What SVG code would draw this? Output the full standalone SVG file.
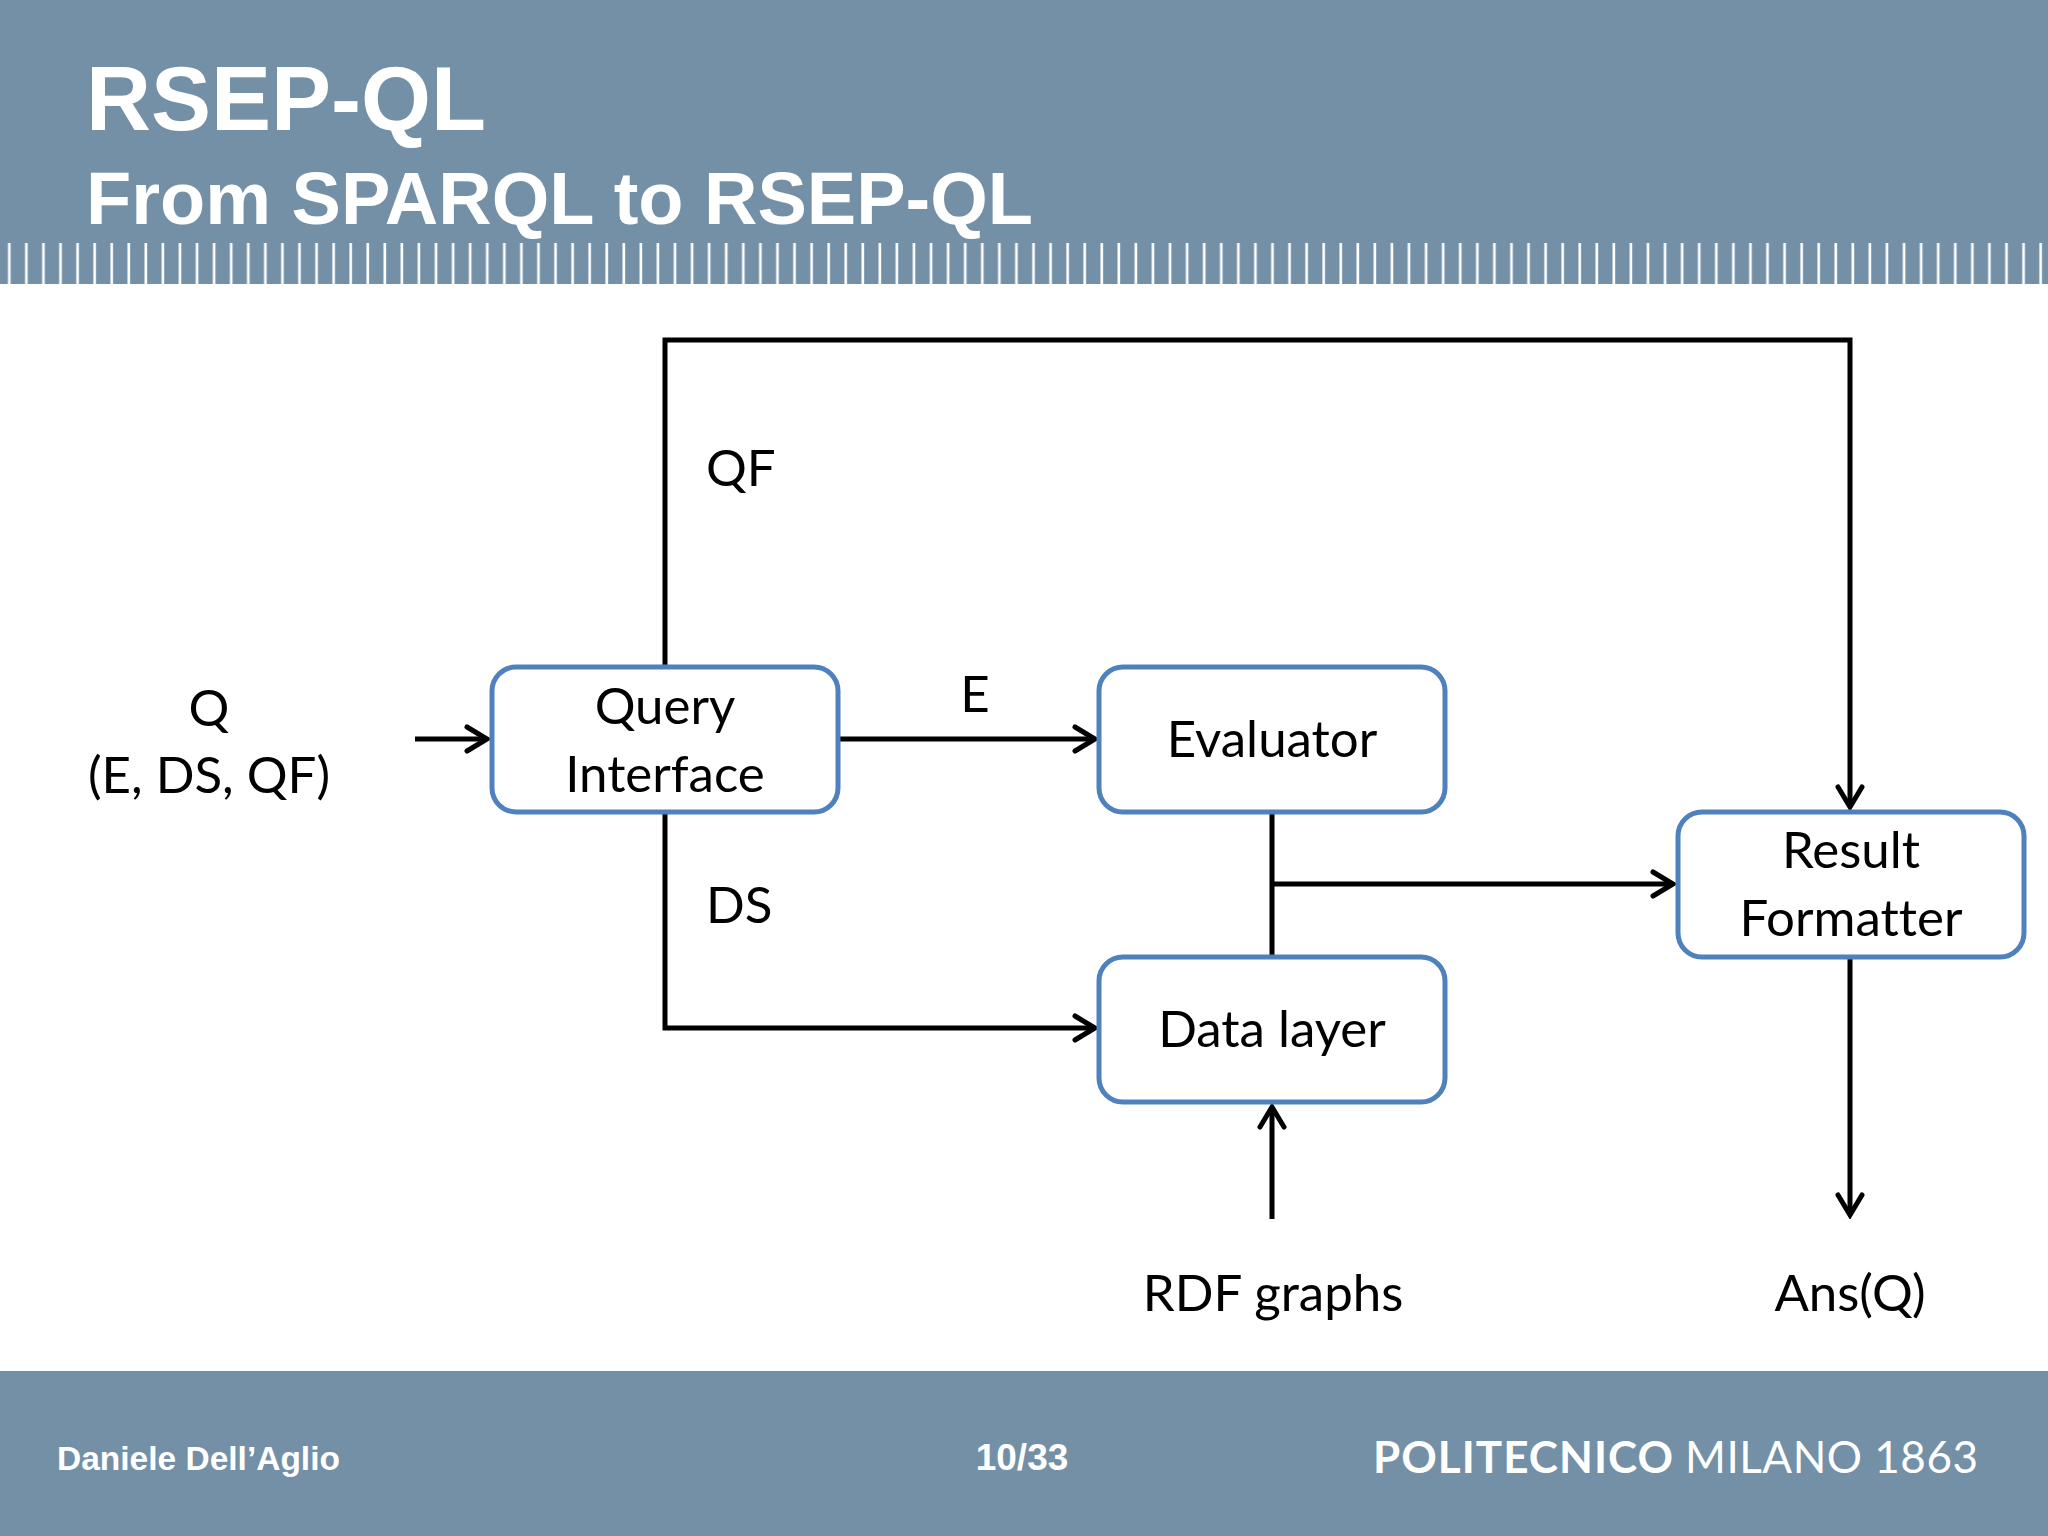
<svg xmlns="http://www.w3.org/2000/svg" width="2048" height="1536" viewBox="0 0 2048 1536">
  <defs>
    <style>
      .band { fill: #7490a7; }
      .title { font-family: "Liberation Sans", Arial, sans-serif; font-weight: bold; fill: #ffffff; }
      .foot { font-family: "Liberation Sans", Arial, sans-serif; font-weight: bold; fill: #ffffff; }
      .logo { font-family: Lato, "Open Sans", sans-serif; fill: #ffffff; font-size: 44px; }
      .box { fill: #ffffff; stroke: #4f81bd; stroke-width: 5; }
      .lbl { font-family: Lato, "Open Sans", sans-serif; font-size: 51px; fill: #000000; font-variant-ligatures: none; }
      .mid { text-anchor: middle; }
      .wire { fill: none; stroke: #000000; stroke-width: 5; stroke-linejoin: miter; }
    </style>
    <pattern id="ticks" patternUnits="userSpaceOnUse" x="0" y="0" width="17.07" height="60">
      <rect x="8" y="0" width="2.6" height="60" fill="#ffffff"/>
    </pattern>
    <marker id="arr" markerUnits="userSpaceOnUse" viewBox="-26 -16 30 32" refX="0" refY="0" markerWidth="30" markerHeight="32" orient="auto">
      <path d="M -20 -12 L 0 0 L -20 12" fill="none" stroke="#000000" stroke-width="5" stroke-linecap="round" stroke-linejoin="miter"/>
    </marker>
  </defs>

  <!-- background -->
  <rect x="0" y="0" width="2048" height="1536" fill="#ffffff"/>

  <!-- header -->
  <rect class="band" x="0" y="0" width="2048" height="284"/>
  <rect x="0" y="243" width="2048" height="41" fill="url(#ticks)"/>
  <text class="title" x="86" y="130" font-size="90">RSEP-QL</text>
  <text class="title" x="86" y="224" font-size="74">From SPARQL to RSEP-QL</text>

  <!-- footer -->
  <rect class="band" x="0" y="1371" width="2048" height="165"/>
  <text class="foot" x="57" y="1470" font-size="33.5">Daniele Dell’Aglio</text>
  <text class="foot" x="1022" y="1470" font-size="37" text-anchor="middle">10/33</text>
  <text class="logo" x="1373" y="1473" font-weight="bold" textLength="300">POLITECNICO</text>
  <text class="logo" x="1685" y="1473" font-weight="normal" textLength="293">MILANO 1863</text>

  <!-- connectors -->
  <g id="connectors">
    <path class="wire" d="M 415 739 L 487 739" marker-end="url(#arr)"/>
    <path class="wire" d="M 839 739 L 1095 739" stroke-width="6" marker-end="url(#arr)"/>
    <path class="wire" d="M 665 666 L 665 340 L 1850 340 L 1850 807" marker-end="url(#arr)"/>
    <path class="wire" d="M 665 812 L 665 1028 L 1095 1028" marker-end="url(#arr)"/>
    <path class="wire" d="M 1272 812 L 1272 956"/>
    <path class="wire" d="M 1272 884 L 1673 884" stroke-width="6" marker-end="url(#arr)"/>
    <path class="wire" d="M 1272 1219 L 1272 1107" marker-end="url(#arr)"/>
    <path class="wire" d="M 1850 957 L 1850 1215" marker-end="url(#arr)"/>
  </g>

  <!-- connector labels -->
  <g id="labels">
    <text class="lbl mid" x="209" y="726">Q</text>
    <text class="lbl mid" x="209" y="793">(E, DS, QF)</text>
    <text class="lbl" x="706" y="486">QF</text>
    <text class="lbl" x="706" y="923">DS</text>
    <text class="lbl mid" x="975" y="712">E</text>
    <text class="lbl mid" x="1273" y="1311">RDF graphs</text>
    <text class="lbl mid" x="1850" y="1311">Ans(Q)</text>
  </g>

  <!-- nodes -->
  <g id="query-interface">
    <rect class="box" x="492" y="667" width="346" height="145" rx="24"/>
    <text class="lbl mid" x="665" y="724">Query</text>
    <text class="lbl mid" x="665" y="792">Interface</text>
  </g>
  <g id="evaluator">
    <rect class="box" x="1099" y="667" width="346" height="145" rx="24"/>
    <text class="lbl mid" x="1272" y="757">Evaluator</text>
  </g>
  <g id="data-layer">
    <rect class="box" x="1099" y="957" width="346" height="145" rx="24"/>
    <text class="lbl mid" x="1272" y="1047">Data layer</text>
  </g>
  <g id="result-formatter">
    <rect class="box" x="1678" y="812" width="346" height="145" rx="24"/>
    <text class="lbl mid" x="1851" y="868">Result</text>
    <text class="lbl mid" x="1851" y="936">Formatter</text>
  </g>
</svg>
